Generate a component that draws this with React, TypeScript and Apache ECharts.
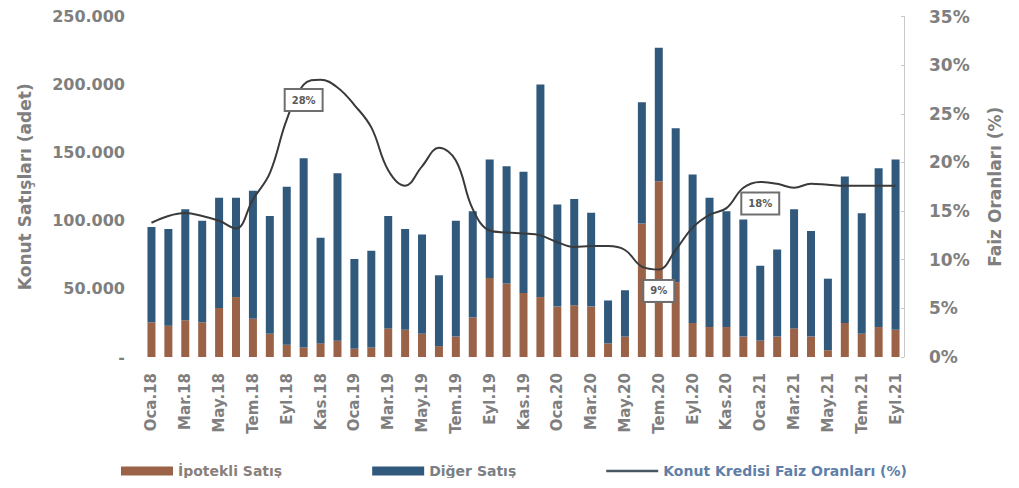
import React, { useEffect, useRef } from "react";
import * as echarts from "echarts";

// Monthly categories, Jan 2018 – Sep 2021
const months = [
  "Oca.18", "Şub.18", "Mar.18", "Nis.18", "May.18", "Haz.18", "Tem.18", "Ağu.18", "Eyl.18", "Eki.18", "Kas.18", "Ara.18",
  "Oca.19", "Şub.19", "Mar.19", "Nis.19", "May.19", "Haz.19", "Tem.19", "Ağu.19", "Eyl.19", "Eki.19", "Kas.19", "Ara.19",
  "Oca.20", "Şub.20", "Mar.20", "Nis.20", "May.20", "Haz.20", "Tem.20", "Ağu.20", "Eyl.20", "Eki.20", "Kas.20", "Ara.20",
  "Oca.21", "Şub.21", "Mar.21", "Nis.21", "May.21", "Haz.21", "Tem.21", "Ağu.21", "Eyl.21",
];

// Mortgage-financed sales (adet)
const ipotekliSatis = [
  25500, 23000, 27000, 25500, 36000, 44000, 28000, 17000, 9000, 7000, 10000, 12000,
  6000, 7000, 21000, 20000, 17000, 8000, 15000, 29000, 58000, 54000, 47000, 44000,
  37000, 38000, 37000, 10000, 15000, 98000, 129000, 55000, 25000, 22000, 22000, 15000,
  12000, 15000, 21000, 15000, 5000, 25000, 17000, 22000, 20000,
];

// Other sales (adet)
const digerSatis = [
  70000, 71000, 81500, 74500, 81000, 73000, 94000, 86500, 116000, 139000, 77500, 123000,
  66000, 71000, 82500, 74000, 73000, 52000, 85000, 78000, 87000, 86000, 89000, 156000,
  75000, 78000, 69000, 31500, 34000, 89000, 98000, 113000, 109000, 95000, 85000, 86000,
  55000, 64000, 87500, 77500, 52500, 107500, 88500, 116500, 125000,
];

// Housing loan interest rate (%)
const faizOrani = [
  13.8, 14.5, 14.8, 14.5, 14.0, 13.2, 16.2, 18.9, 24.4, 28, 28.5, 27.7,
  25.9, 23.6, 19.2, 17.6, 19.6, 21.5, 20.2, 15.2, 13.0, 12.8, 12.7, 12.5,
  11.8, 11.3, 11.4, 11.4, 11.0, 9.3, 9, 11.0, 13.3, 14.6, 15.3, 17.4,
  18, 17.8, 17.4, 17.8, 17.7, 17.6, 17.6, 17.6, 17.6,
];

// Months whose rate is called out in a box
const labelledMonths = ["Eki.18", "Tem.20", "Oca.21"];

const leftTicks = { min: 0, max: 250000, interval: 50000 };
const rightTicks = { min: 0, max: 35, interval: 5 };

const FONT = "DejaVu Sans";
const GREY = "#7f7f7f";

export default function App() {
  const ref = useRef<HTMLDivElement>(null);

  useEffect(() => {
    if (!ref.current) return;
    const chart = echarts.init(ref.current, null, { renderer: "svg" });

    // Boxed value call-outs sitting just under the rate curve
    const callouts = labelledMonths.map((m) => {
      const i = months.indexOf(m);
      return {
        coord: [m, faizOrani[i]],
        value: faizOrani[i],
        label: { distance: m === "Eki.18" ? 5 : 11 },
      };
    });

    chart.setOption({
      animation: false,
      backgroundColor: "#ffffff",
      grid: { left: 128, right: 86, top: 7, bottom: 121, containLabel: false },
      legend: {
        left: 108,
        top: 451,
        itemWidth: 52,
        itemHeight: 9,
        itemGap: 90,
        textStyle: { fontFamily: FONT, fontWeight: "bold", fontSize: 14, color: GREY },
        data: [
          { name: "İpotekli Satış", icon: "rect", textStyle: { color: "#8a7f7a" } },
          { name: "Diğer Satış", icon: "rect", textStyle: { color: "#7a7f85" } },
          {
            name: "Konut Kredisi Faiz Oranları (%)",
            icon: "path://M0,0H60V3H0Z",
            itemStyle: { color: "#4a5866" },
            textStyle: { color: "#5f7fa8" },
          },
        ],
      },
      xAxis: {
        type: "category",
        data: months,
        boundaryGap: true,
        axisLine: { show: false },
        axisTick: { show: false },
        axisLabel: {
          interval: 1,
          rotate: 90,
          margin: 16,
          color: GREY,
          fontFamily: FONT,
          fontWeight: "bold",
          fontSize: 15,
        },
      },
      yAxis: [
        {
          type: "value",
          ...leftTicks,
          name: "Konut Satışları (adet)",
          nameLocation: "middle",
          nameRotate: 90,
          nameGap: 110,
          nameTextStyle: { color: GREY, fontFamily: FONT, fontWeight: "bold", fontSize: 17 },
          axisLine: { show: false },
          axisTick: { show: false },
          splitLine: { show: false },
          axisLabel: {
            margin: 18,
            color: GREY,
            fontFamily: FONT,
            fontWeight: "bold",
            fontSize: 16,
            formatter: (v: number) =>
              v === 0 ? "-" : String(v).replace(/\B(?=(\d{3})+(?!\d))/g, "."),
          },
        },
        {
          type: "value",
          ...rightTicks,
          position: "right",
          name: "Faiz Oranları (%)",
          nameLocation: "middle",
          nameRotate: 90,
          nameGap: 82,
          nameTextStyle: { color: GREY, fontFamily: FONT, fontWeight: "bold", fontSize: 17 },
          axisLine: { show: true, lineStyle: { color: "#c8c8c8", width: 1 } },
          axisTick: { show: true, length: 3, inside: true, lineStyle: { color: "#c8c8c8" } },
          splitLine: { show: false },
          axisLabel: {
            margin: 25,
            color: GREY,
            fontFamily: FONT,
            fontWeight: "bold",
            fontSize: 17,
            formatter: "{value}%",
          },
        },
      ],
      series: [
        {
          name: "İpotekli Satış",
          type: "bar",
          stack: "satis",
          barWidth: 8,
          itemStyle: { color: "#9a6247" },
          data: ipotekliSatis,
        },
        {
          name: "Diğer Satış",
          type: "bar",
          stack: "satis",
          barWidth: 8,
          itemStyle: { color: "#30597c" },
          data: digerSatis,
        },
        {
          name: "Konut Kredisi Faiz Oranları (%)",
          type: "line",
          yAxisIndex: 1,
          smooth: 0.4,
          symbol: "none",
          lineStyle: { color: "#3a3a3a", width: 2 },
          itemStyle: { color: "#3a3a3a" },
          z: 3,
          data: faizOrani,
          markPoint: {
            z: 10,
            symbol: "circle",
            symbolSize: 1,
            itemStyle: { color: "rgba(0,0,0,0)" },
            label: {
              show: true,
              position: "bottom",
              formatter: "{c}%",
              backgroundColor: "#ffffff",
              borderColor: "#6e6e6e",
              borderWidth: 2,
              padding: [5, 6],
              color: "#5a5a5a",
              fontFamily: FONT,
              fontWeight: "bold",
              fontSize: 10,
            },
            data: callouts,
          },
        },
      ],
    });

    return () => chart.dispose();
  }, []);

  return <div ref={ref} style={{ width: 1003, height: 470 }} />;
}
